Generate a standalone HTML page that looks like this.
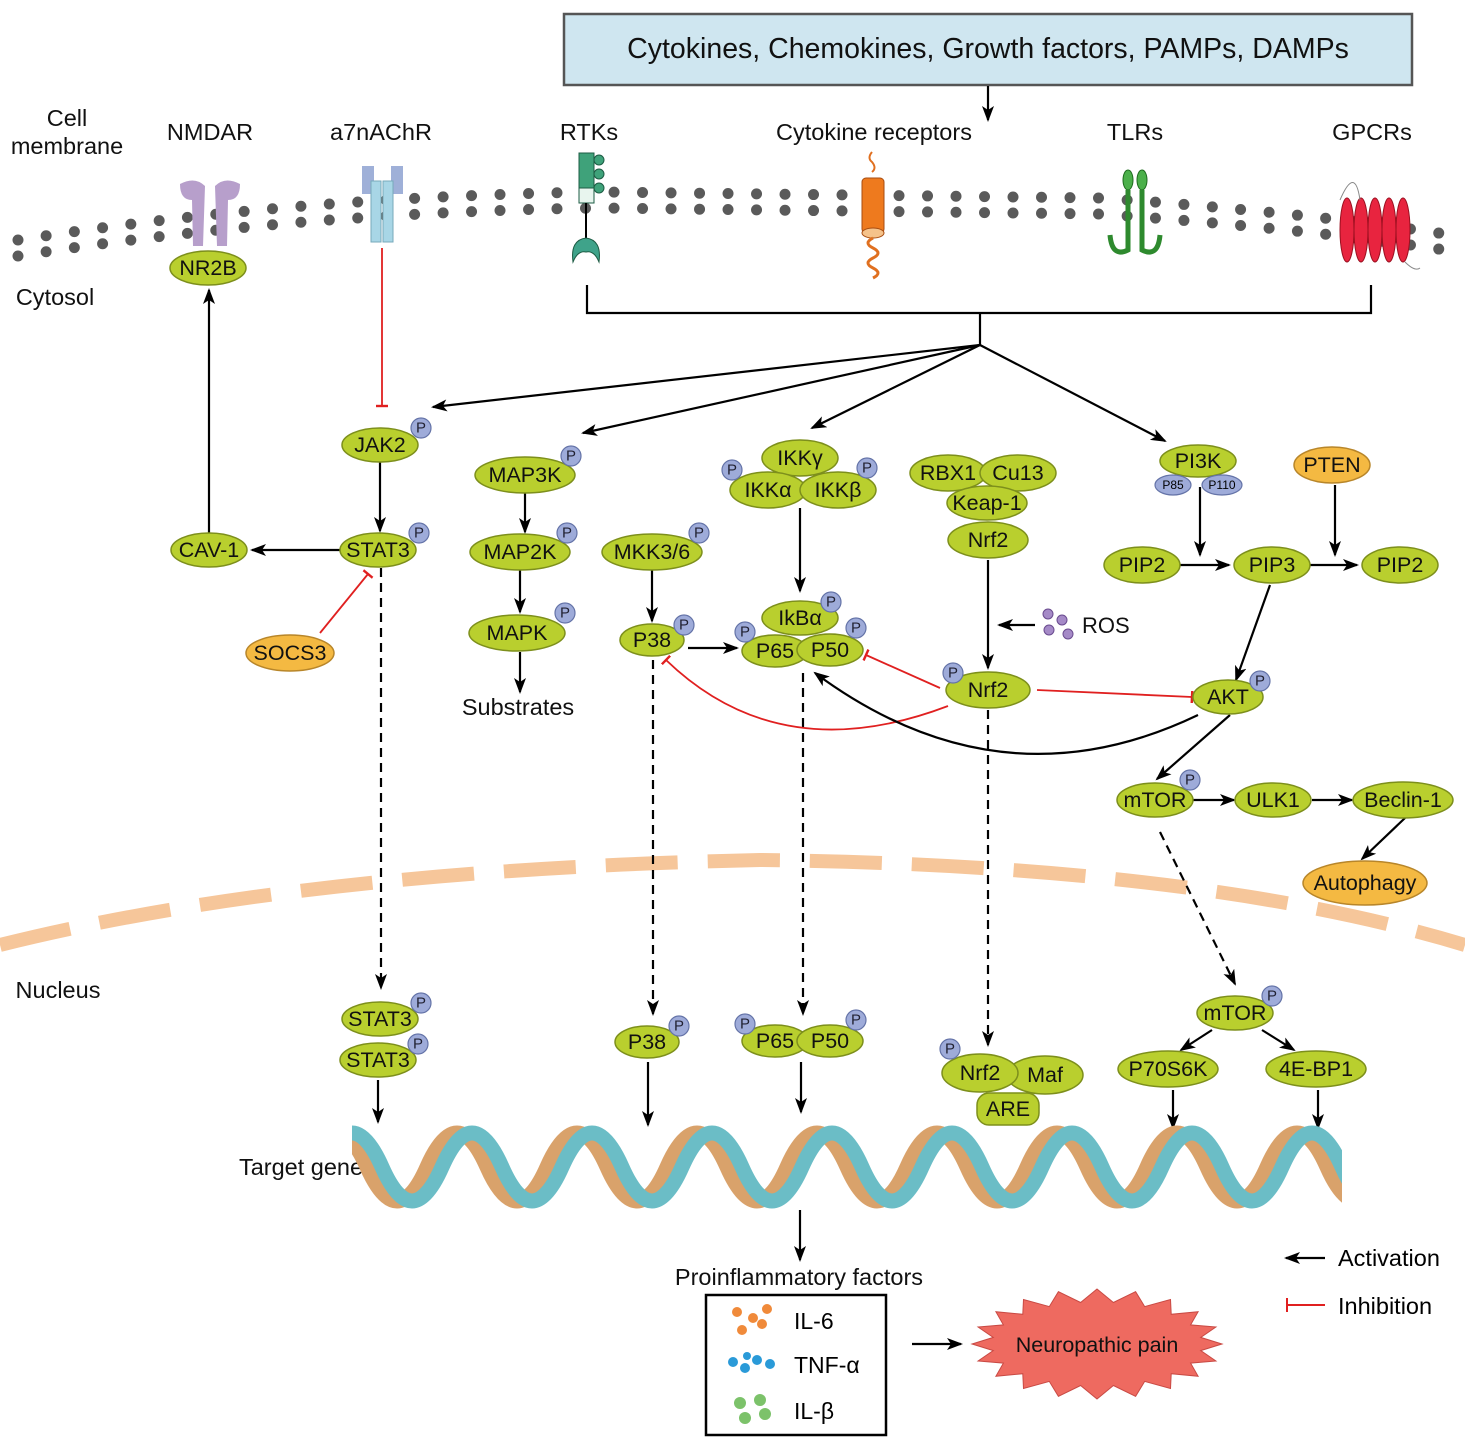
<!DOCTYPE html>
<html><head><meta charset="utf-8"><style>
body{margin:0;background:#fff}
svg{display:block;font-family:"Liberation Sans",Arial,sans-serif}
.n{fill:#b9cf2e;stroke:#7d8f1c;stroke-width:1.5}
.o{fill:#f4b942;stroke:#b8862a;stroke-width:1.5}
.p{fill:#9eabd9;stroke:#6574a8;stroke-width:1.2}
.t{font-size:21.5px;text-anchor:middle;dominant-baseline:central;fill:#111}
.pt{font-size:15px;text-anchor:middle;dominant-baseline:central;fill:#223}
.l{font-size:23.5px;text-anchor:middle;fill:#111}
.a{stroke:#000;stroke-width:2.2;fill:none;marker-end:url(#ah)}
.d{stroke:#000;stroke-width:2.2;fill:none;stroke-dasharray:9 6;marker-end:url(#ah)}
.r{stroke:#e02020;stroke-width:1.8;fill:none;marker-end:url(#bar)}
</style></head><body>
<svg width="1465" height="1450" viewBox="0 0 1465 1450" xmlns="http://www.w3.org/2000/svg">
<defs>
<marker id="ah" viewBox="0 0 16 12" refX="14" refY="6" markerWidth="16" markerHeight="12" orient="auto" markerUnits="userSpaceOnUse"><path d="M0,0 L16,6 L0,12 L4,6z" fill="#000"/></marker>
<marker id="bar" viewBox="0 0 10 10" refX="5" refY="5" markerWidth="12" markerHeight="12" orient="auto" markerUnits="userSpaceOnUse"><path d="M5,0 L5,10" stroke="#e02020" stroke-width="2"/></marker>
<clipPath id="dc"><rect x="352" y="1100" width="990" height="120"/></clipPath>
</defs>

<rect x="564" y="14" width="848" height="71" fill="#cfe6f0" stroke="#555" stroke-width="2.5"/>
<text x="988" y="58" font-size="28.5" text-anchor="middle" fill="#111">Cytokines, Chemokines, Growth factors, PAMPs, DAMPs</text>
<path class="a" d="M988,86 L988,120"/>

<text class="l" x="67" y="126">Cell</text>
<text class="l" x="67" y="154">membrane</text>
<text class="l" x="210" y="140">NMDAR</text>
<text class="l" x="381" y="140">a7nAChR</text>
<text class="l" x="589" y="140">RTKs</text>
<text class="l" x="874" y="140">Cytokine receptors</text>
<text class="l" x="1135" y="140">TLRs</text>
<text class="l" x="1372" y="140">GPCRs</text>
<text class="l" x="55" y="305">Cytosol</text>
<text class="l" x="58" y="998">Nucleus</text>
<text class="l" x="301" y="1175">Target gene</text>

<path d="M18,240 Q300,196 600,192 L1100,198 Q1300,212 1445,234" fill="none" stroke="#5a5a5a" stroke-width="11" stroke-linecap="round" stroke-dasharray="0 28.5"/>
<path d="M18,256 Q300,212 600,208 L1100,214 Q1300,228 1445,250" fill="none" stroke="#5a5a5a" stroke-width="11" stroke-linecap="round" stroke-dasharray="0 28.5"/>

<path d="M180,184 Q195,176 205,186 L203,246 L193,246 L192,200 Q180,200 180,184z M240,184 Q225,176 215,186 L217,246 L227,246 L228,200 Q240,200 240,184z" fill="#b79fcb"/>
<rect x="362" y="166" width="12" height="28" fill="#9fb0d8"/><rect x="391" y="166" width="12" height="28" fill="#9fb0d8"/>
<rect x="371" y="181" width="10" height="61" fill="#a8d6e6" stroke="#7ab" stroke-width="1"/><rect x="383" y="181" width="10" height="61" fill="#a8d6e6" stroke="#7ab" stroke-width="1"/>
<rect x="579" y="153" width="15" height="50" fill="#3fa27a" stroke="#1d5c44"/>
<rect x="579" y="188" width="15" height="15" fill="#e8f5ee" stroke="#1d5c44"/>
<circle cx="599" cy="160" r="5" fill="#3fa27a" stroke="#1d5c44"/><circle cx="599" cy="174" r="5" fill="#3fa27a" stroke="#1d5c44"/><circle cx="599" cy="188" r="5" fill="#3fa27a" stroke="#1d5c44"/>
<line x1="586" y1="203" x2="586" y2="238" stroke="#000" stroke-width="2"/>
<path d="M573,262 Q570,240 586,238 Q602,240 599,262 Q594,250 586,252 Q578,250 573,262z" fill="#3fa38a" stroke="#1d5c44"/>
<path d="M872,152 q-5,6 0,10 q5,6 0,10" stroke="#e07020" fill="none" stroke-width="2"/>
<rect x="862" y="178" width="22" height="55" rx="4" fill="#ee7a1e" stroke="#a84c10"/>
<ellipse cx="873" cy="233" rx="11" ry="5" fill="#f5c28a" stroke="#a84c10"/>
<path d="M873,238 q-10,5 0,10 q10,5 0,10 q-10,5 0,10 q10,5 0,10" stroke="#e07020" fill="none" stroke-width="3"/>
<ellipse cx="1128" cy="180" rx="5" ry="10" fill="#4bb04a" stroke="#1d6b1d"/><ellipse cx="1142" cy="180" rx="5" ry="10" fill="#4bb04a" stroke="#1d6b1d"/>
<path d="M1128,190 L1128,250 Q1112,258 1110,235 M1142,190 L1142,250 Q1158,258 1160,235" stroke="#2e8a2e" stroke-width="5" fill="none"/>
<g fill="#e8243f" stroke="#9a1020">
<ellipse cx="1347" cy="230" rx="7" ry="32"/><ellipse cx="1361" cy="230" rx="7" ry="32"/><ellipse cx="1375" cy="230" rx="7" ry="32"/><ellipse cx="1389" cy="230" rx="7" ry="32"/><ellipse cx="1403" cy="230" rx="7" ry="32"/></g>
<path d="M1340,200 Q1355,165 1360,200 M1405,262 Q1415,272 1420,268" stroke="#888" fill="none"/>

<path d="M587,285 L587,313 L1371,313 L1371,285 M980,313 L980,345" stroke="#000" stroke-width="2.2" fill="none"/>
<path class="a" d="M980,345 L433,407"/>
<path class="a" d="M980,345 L583,433"/>
<path class="a" d="M980,345 L812,428"/>
<path class="a" d="M980,345 L1165,441"/>

<path d="M0,945 Q300,870 760,860 Q1200,865 1465,945" fill="none" stroke="#f6c69a" stroke-width="14" stroke-dasharray="72 30"/>

<path class="a" d="M209,535 L209,290"/>
<path class="a" d="M340,550 L252,550"/>
<path class="r" d="M382,248 L382,406"/>
<path class="r" d="M320,633 L368,574"/>
<path class="a" d="M380,462 L380,531"/>
<path class="d" d="M381,568 L381,988"/>
<path class="a" d="M525,493 L525,532"/>
<path class="a" d="M520,570 L520,612"/>
<path class="a" d="M520,652 L520,692"/>
<path class="a" d="M652,570 L652,621"/>
<path class="a" d="M688,648 L737,648"/>
<path class="d" d="M653,660 L653,1014"/>
<path class="a" d="M800,508 L800,591"/>
<path class="d" d="M803,673 L803,1014"/>
<path class="a" d="M988,560 L988,668"/>
<path class="a" d="M1035,625 L999,625"/>
<path class="r" d="M940,688 L866,655"/>
<path class="r" d="M948,706 Q780,770 666,660"/>
<path class="r" d="M1037,690 L1192,697"/>
<path class="a" d="M1198,715 Q1000,810 815,673"/>
<path class="d" d="M988,710 L988,1045"/>
<path class="a" d="M1200,487 L1200,555"/>
<path class="a" d="M1335,485 L1335,555"/>
<path class="a" d="M1180,565 L1229,565"/>
<path class="a" d="M1310,565 L1357,565"/>
<path class="a" d="M1270,585 L1236,680"/>
<path class="a" d="M1230,715 L1157,779"/>
<path class="a" d="M1193,800 L1234,800"/>
<path class="a" d="M1312,800 L1352,800"/>
<path class="a" d="M1405,818 L1362,859"/>
<path class="d" d="M1160,832 L1235,984"/>
<path class="a" d="M1212,1030 L1181,1050"/>
<path class="a" d="M1262,1030 L1294,1050"/>
<path class="a" d="M378,1080 L378,1122"/>
<path class="a" d="M648,1062 L648,1125"/>
<path class="a" d="M801,1062 L801,1112"/>
<path class="a" d="M1173,1090 L1173,1128"/>
<path class="a" d="M1318,1090 L1318,1128"/>
<path class="a" d="M800,1210 L800,1260"/>

<g fill="#a58ac7" stroke="#6a4b8f"><circle cx="1048" cy="614" r="5"/><circle cx="1062" cy="620" r="5"/><circle cx="1049" cy="630" r="5"/><circle cx="1068" cy="634" r="5"/></g>
<text x="1082" y="633" font-size="22" fill="#111">ROS</text>
<text class="l" x="518" y="715">Substrates</text>

<ellipse class="n" cx="208" cy="268" rx="38" ry="17"/><text class="t" x="208" y="268">NR2B</text>
<ellipse class="n" cx="380" cy="445" rx="38" ry="17"/><text class="t" x="380" y="445">JAK2</text>
<circle class="p" cx="421" cy="428" r="10"/><text class="pt" x="421" y="428">P</text>
<ellipse class="n" cx="378" cy="550" rx="38" ry="17"/><text class="t" x="378" y="550">STAT3</text>
<circle class="p" cx="419" cy="533" r="10"/><text class="pt" x="419" y="533">P</text>
<ellipse class="n" cx="209" cy="550" rx="38" ry="17"/><text class="t" x="209" y="550">CAV-1</text>
<ellipse class="o" cx="290" cy="653" rx="44" ry="18"/><text class="t" x="290" y="653">SOCS3</text>
<ellipse class="n" cx="525" cy="475" rx="50" ry="18"/><text class="t" x="525" y="475">MAP3K</text>
<circle class="p" cx="571" cy="456" r="10"/><text class="pt" x="571" y="456">P</text>
<ellipse class="n" cx="520" cy="552" rx="50" ry="18"/><text class="t" x="520" y="552">MAP2K</text>
<circle class="p" cx="567" cy="533" r="10"/><text class="pt" x="567" y="533">P</text>
<ellipse class="n" cx="517" cy="633" rx="48" ry="18"/><text class="t" x="517" y="633">MAPK</text>
<circle class="p" cx="565" cy="613" r="10"/><text class="pt" x="565" y="613">P</text>
<ellipse class="n" cx="652" cy="552" rx="50" ry="18"/><text class="t" x="652" y="552">MKK3/6</text>
<circle class="p" cx="699" cy="533" r="10"/><text class="pt" x="699" y="533">P</text>
<ellipse class="n" cx="652" cy="640" rx="32" ry="16"/><text class="t" x="652" y="640">P38</text>
<circle class="p" cx="684" cy="625" r="10"/><text class="pt" x="684" y="625">P</text>
<ellipse class="n" cx="800" cy="458" rx="38" ry="18"/><text class="t" x="800" y="458">IKKγ</text>
<ellipse class="n" cx="768" cy="490" rx="38" ry="18"/><text class="t" x="768" y="490">IKKα</text>
<ellipse class="n" cx="838" cy="490" rx="38" ry="18"/><text class="t" x="838" y="490">IKKβ</text>
<circle class="p" cx="732" cy="470" r="10"/><text class="pt" x="732" y="470">P</text>
<circle class="p" cx="867" cy="468" r="10"/><text class="pt" x="867" y="468">P</text>
<ellipse class="n" cx="800" cy="618" rx="38" ry="17"/><text class="t" x="800" y="618">IkBα</text>
<circle class="p" cx="831" cy="602" r="10"/><text class="pt" x="831" y="602">P</text>
<ellipse class="n" cx="775" cy="651" rx="33" ry="16"/><text class="t" x="775" y="651">P65</text>
<ellipse class="n" cx="830" cy="650" rx="33" ry="16"/><text class="t" x="830" y="650">P50</text>
<circle class="p" cx="745" cy="632" r="10"/><text class="pt" x="745" y="632">P</text>
<circle class="p" cx="856" cy="628" r="10"/><text class="pt" x="856" y="628">P</text>
<ellipse class="n" cx="948" cy="473" rx="38" ry="18"/><text class="t" x="948" y="473">RBX1</text>
<ellipse class="n" cx="1018" cy="473" rx="38" ry="18"/><text class="t" x="1018" y="473">Cu13</text>
<ellipse class="n" cx="987" cy="503" rx="40" ry="17"/><text class="t" x="987" y="503">Keap-1</text>
<ellipse class="n" cx="988" cy="540" rx="40" ry="18"/><text class="t" x="988" y="540">Nrf2</text>
<ellipse class="n" cx="988" cy="690" rx="42" ry="18"/><text class="t" x="988" y="690">Nrf2</text>
<circle class="p" cx="953" cy="673" r="10"/><text class="pt" x="953" y="673">P</text>
<ellipse class="n" cx="1198" cy="461" rx="38" ry="16"/><text class="t" x="1198" y="461">PI3K</text>
<ellipse class="p" cx="1173" cy="485" rx="18" ry="10"/><text x="1173" y="485" font-size="12" text-anchor="middle" dominant-baseline="central">P85</text>
<ellipse class="p" cx="1222" cy="485" rx="20" ry="10"/><text x="1222" y="485" font-size="12" text-anchor="middle" dominant-baseline="central">P110</text>
<ellipse class="o" cx="1332" cy="465" rx="38" ry="18"/><text class="t" x="1332" y="465">PTEN</text>
<ellipse class="n" cx="1142" cy="565" rx="38" ry="18"/><text class="t" x="1142" y="565">PIP2</text>
<ellipse class="n" cx="1272" cy="565" rx="38" ry="18"/><text class="t" x="1272" y="565">PIP3</text>
<ellipse class="n" cx="1400" cy="565" rx="38" ry="18"/><text class="t" x="1400" y="565">PIP2</text>
<ellipse class="n" cx="1228" cy="697" rx="35" ry="17"/><text class="t" x="1228" y="697">AKT</text>
<circle class="p" cx="1260" cy="681" r="10"/><text class="pt" x="1260" y="681">P</text>
<ellipse class="n" cx="1155" cy="800" rx="38" ry="17"/><text class="t" x="1155" y="800">mTOR</text>
<circle class="p" cx="1190" cy="780" r="10"/><text class="pt" x="1190" y="780">P</text>
<ellipse class="n" cx="1273" cy="800" rx="38" ry="17"/><text class="t" x="1273" y="800">ULK1</text>
<ellipse class="n" cx="1403" cy="800" rx="50" ry="18"/><text class="t" x="1403" y="800">Beclin-1</text>
<ellipse class="o" cx="1365" cy="883" rx="62" ry="22"/><text class="t" x="1365" y="883">Autophagy</text>

<ellipse class="n" cx="380" cy="1019" rx="38" ry="17"/><text class="t" x="380" y="1019">STAT3</text>
<circle class="p" cx="421" cy="1003" r="10"/><text class="pt" x="421" y="1003">P</text>
<ellipse class="n" cx="378" cy="1060" rx="38" ry="17"/><text class="t" x="378" y="1060">STAT3</text>
<circle class="p" cx="418" cy="1044" r="10"/><text class="pt" x="418" y="1044">P</text>
<ellipse class="n" cx="647" cy="1042" rx="32" ry="16"/><text class="t" x="647" y="1042">P38</text>
<circle class="p" cx="679" cy="1026" r="10"/><text class="pt" x="679" y="1026">P</text>
<ellipse class="n" cx="775" cy="1041" rx="33" ry="16"/><text class="t" x="775" y="1041">P65</text>
<ellipse class="n" cx="830" cy="1041" rx="33" ry="16"/><text class="t" x="830" y="1041">P50</text>
<circle class="p" cx="745" cy="1024" r="10"/><text class="pt" x="745" y="1024">P</text>
<circle class="p" cx="856" cy="1020" r="10"/><text class="pt" x="856" y="1020">P</text>
<ellipse class="n" cx="1045" cy="1075" rx="38" ry="19"/><text class="t" x="1045" y="1075">Maf</text>
<ellipse class="n" cx="980" cy="1073" rx="38" ry="19"/><text class="t" x="980" y="1073">Nrf2</text>
<rect class="n" x="977" y="1093" width="62" height="32" rx="12"/><text class="t" x="1008" y="1109">ARE</text>
<circle class="p" cx="950" cy="1049" r="10"/><text class="pt" x="950" y="1049">P</text>
<ellipse class="n" cx="1235" cy="1013" rx="38" ry="17"/><text class="t" x="1235" y="1013">mTOR</text>
<circle class="p" cx="1272" cy="996" r="10"/><text class="pt" x="1272" y="996">P</text>
<ellipse class="n" cx="1168" cy="1069" rx="50" ry="18"/><text class="t" x="1168" y="1069">P70S6K</text>
<ellipse class="n" cx="1316" cy="1069" rx="50" ry="18"/><text class="t" x="1316" y="1069">4E-BP1</text>

<g clip-path="url(#dc)" fill="none" stroke-width="15">
<path stroke="#d9a26b" d="M307,1167 Q337,1099 367,1167 T427,1167 T487,1167 T547,1167 T607,1167 T667,1167 T727,1167 T787,1167 T847,1167 T907,1167 T967,1167 T1027,1167 T1087,1167 T1147,1167 T1207,1167 T1267,1167 T1327,1167 T1387,1167"/>
<path stroke="#6bbdc6" d="M322,1167 Q352,1099 382,1167 T442,1167 T502,1167 T562,1167 T622,1167 T682,1167 T742,1167 T802,1167 T862,1167 T922,1167 T982,1167 T1042,1167 T1102,1167 T1162,1167 T1222,1167 T1282,1167 T1342,1167 T1402,1167"/>
</g>

<text class="l" x="799" y="1285" font-size="22">Proinflammatory factors</text>
<rect x="706" y="1295" width="180" height="140" fill="#fff" stroke="#000" stroke-width="2.5"/>
<g fill="#f08a3a"><circle cx="737" cy="1312" r="5"/><circle cx="753" cy="1318" r="5"/><circle cx="767" cy="1309" r="5"/><circle cx="742" cy="1330" r="5"/><circle cx="762" cy="1324" r="5"/></g>
<g fill="#2a9ad8"><circle cx="733" cy="1362" r="5"/><circle cx="745" cy="1368" r="5"/><circle cx="757" cy="1360" r="5"/><circle cx="770" cy="1364" r="5"/><circle cx="747" cy="1356" r="4"/></g>
<g fill="#7cc26a"><circle cx="740" cy="1403" r="6"/><circle cx="760" cy="1400" r="6"/><circle cx="745" cy="1418" r="6"/><circle cx="765" cy="1414" r="6"/></g>
<text x="794" y="1329" font-size="23">IL-6</text>
<text x="794" y="1373" font-size="23">TNF-α</text>
<text x="794" y="1419" font-size="23">IL-β</text>
<path class="a" d="M912,1344 L961,1344"/>
<polygon fill="#ee6a60" stroke="#c94a44" stroke-width="1" points="1222,1344 1200.7,1350.6 1215.9,1361 1190.6,1363.1 1198.1,1376.3 1171.2,1373.7 1170.5,1388.5 1144.7,1381.4 1135.6,1396.3 1113.4,1385.5 1097,1399 1080.6,1385.5 1058.4,1396.3 1049.3,1381.4 1023.5,1388.5 1022.8,1373.7 995.9,1376.3 1003.4,1363.1 978.1,1361 993.3,1350.6 972,1344 993.3,1337.4 978.1,1327 1003.4,1324.9 995.9,1311.7 1022.8,1314.3 1023.5,1299.5 1049.3,1306.6 1058.4,1291.7 1080.6,1302.5 1097,1289 1113.4,1302.5 1135.6,1291.7 1144.7,1306.6 1170.5,1299.5 1171.2,1314.3 1198.1,1311.7 1190.6,1324.9 1215.9,1327 1200.7,1337.4"/>
<text class="t" x="1097" y="1345">Neuropathic pain</text>

<path class="a" d="M1325,1258 L1286,1258"/>
<text x="1338" y="1266" font-size="23.5">Activation</text>
<path d="M1325,1305 L1287,1305 M1287,1298 L1287,1312" stroke="#e02020" stroke-width="2"/>
<text x="1338" y="1314" font-size="23.5">Inhibition</text>
</svg>
</body></html>
